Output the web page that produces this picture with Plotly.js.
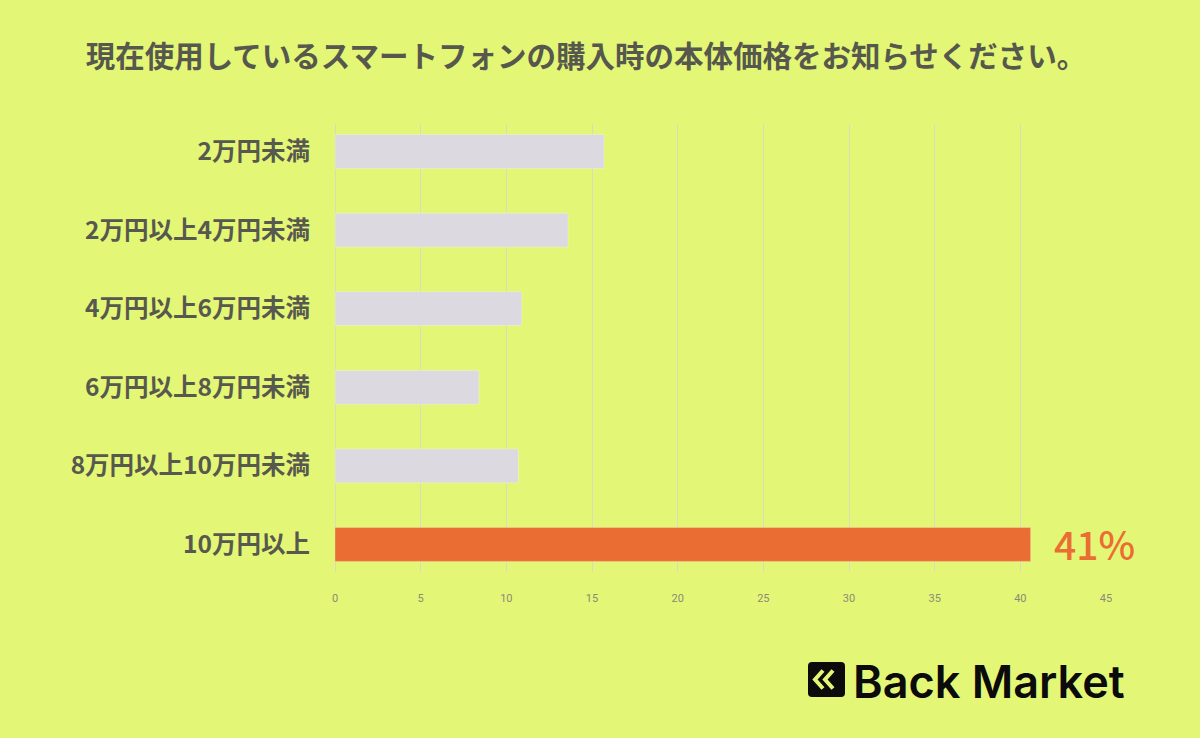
<!DOCTYPE html>
<html>
<head>
<meta charset="utf-8">
<script src="https://cdn.plot.ly/plotly-3.0.1.min.js"></script>
<style>html,body{margin:0;padding:0;background:#e4f675;}#chart{width:1200px;height:738px;}</style>
</head>
<body>
<div id="chart"></div>
<script>
const categories = ['2万円未満', '2万円以上4万円未満', '4万円以上6万円未満', '6万円以上8万円未満', '8万円以上10万円未満', '10万円以上'];
const values = [15.7, 13.6, 10.9, 8.4, 10.7, 40.6];
const barColors = ['#dcd9e0', '#dcd9e0', '#dcd9e0', '#dcd9e0', '#dcd9e0', '#ea6d33'];
const highlightLabel = '41%';
const titleText = '現在使用しているスマートフォンの購入時の本体価格をお知らせください。';
const xTicks = [0, 5, 10, 15, 20, 25, 30, 35, 40, 45];

// plot area geometry in pixels (for placing the logo via paper coords)
const W = 1200, H = 738;
const mL = 335, mR = 94, mT = 124, mB = 166;
const pw = W - mL - mR, ph = H - mT - mB;
const px = x => (x - mL) / pw;
const py = y => (H - mB - y) / ph;

const hi = values.length - 1;

const trace = {
  type: 'bar',
  orientation: 'h',
  y: categories,
  x: values,
  marker: { color: barColors, line: { color: 'rgba(255,255,255,0.25)', width: 1 } },
  width: 0.43,
  hoverinfo: 'none'
};

function rr(x0, y0, x1, y1, r) {
  return `M${px(x0 + r)},${py(y0)} L${px(x1 - r)},${py(y0)} Q${px(x1)},${py(y0)} ${px(x1)},${py(y0 + r)} ` +
         `L${px(x1)},${py(y1 - r)} Q${px(x1)},${py(y1)} ${px(x1 - r)},${py(y1)} L${px(x0 + r)},${py(y1)} ` +
         `Q${px(x0)},${py(y1)} ${px(x0)},${py(y1 - r)} L${px(x0)},${py(y0 + r)} Q${px(x0)},${py(y0)} ${px(x0 + r)},${py(y0)} Z`;
}
function chevron(tipX, midY, w, h) {
  return `M${px(tipX + w)},${py(midY - h)} L${px(tipX)},${py(midY)} L${px(tipX + w)},${py(midY + h)}`;
}

const layout = {
  width: W, height: H,
  paper_bgcolor: '#e4f675',
  plot_bgcolor: '#e4f675',
  margin: { l: mL, r: mR, t: mT, b: mB },
  showlegend: false,
  bargap: 0.57,
  title: {
    text: titleText,
    x: 586 / W, xanchor: 'center', xref: 'container',
    y: 1 - 57 / H, yanchor: 'middle', yref: 'container',
    font: { family: 'Noto Sans CJK JP', size: 29.5, color: '#56584e', weight: 700 }
  },
  xaxis: {
    range: [0, 45],
    tickvals: xTicks,
    ticktext: xTicks.map(String),
    showgrid: true,
    gridcolor: 'rgba(215,215,205,0.8)',
    gridwidth: 1,
    zeroline: true,
    zerolinecolor: 'rgba(215,215,205,0.8)',
    zerolinewidth: 1,
    showline: false,
    ticks: '',
    ticklabelstandoff: 18,
    tickfont: { family: 'Roboto', size: 11, color: '#8a8c78' },
    fixedrange: true
  },
  yaxis: {
    type: 'category',
    range: [5.35, -0.35],
    showgrid: false,
    zeroline: false,
    showline: false,
    ticks: '',
    ticklabelstandoff: 24,
    tickfont: { family: 'Noto Sans CJK JP', size: 24.5, color: '#57594f', weight: 700 },
    fixedrange: true
  },
  annotations: [
    {
      x: values[hi], y: categories[hi], xref: 'x', yref: 'y',
      text: highlightLabel, showarrow: false,
      xanchor: 'left', yanchor: 'middle', xshift: 21, yshift: 1,
      font: { family: 'Noto Sans CJK JP', size: 39, color: '#ea6d33', weight: 500 }
    },
    {
      x: px(851), y: py(681), xref: 'paper', yref: 'paper',
      text: 'Back Market', showarrow: false,
      xanchor: 'left', yanchor: 'middle',
      font: { family: 'Inter', size: 45, color: '#0b0b0b', weight: 600 }
    }
  ],
  shapes: [
    { type: 'path', xref: 'paper', yref: 'paper', path: rr(808, 662, 845, 697, 4),
      fillcolor: '#0b0b0b', line: { width: 0 } },
    { type: 'path', xref: 'paper', yref: 'paper', path: chevron(815, 679.5, 8, 9),
      line: { color: '#e4f675', width: 4 } },
    { type: 'path', xref: 'paper', yref: 'paper', path: chevron(825, 679.5, 8, 9),
      line: { color: '#e4f675', width: 4 } }
  ]
};

Plotly.newPlot('chart', [trace], layout, { displayModeBar: false, staticPlot: true });
</script>
</body>
</html>
